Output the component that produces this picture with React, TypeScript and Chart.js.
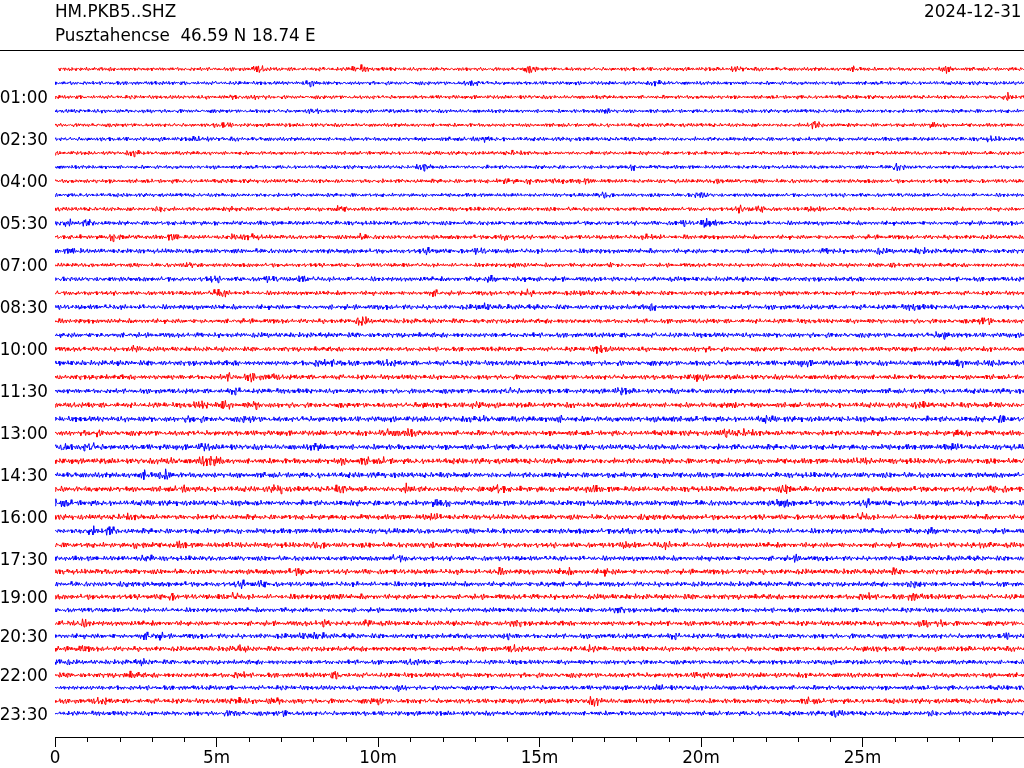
import React, { useEffect, useRef } from "react";
import { Chart, registerables } from "chart.js";

Chart.register(...registerables);

// ---- data ----
const STATION = "HM.PKB5..SHZ";
const LOCATION = "Pusztahencse  46.59 N 18.74 E";
const DAY = "2024-12-31";

// trace baselines (row units, one row per 30-minute line)
const TRACE_BASELINES = [
  0, 1, 2, 3, 4, 5, 6, 7, 8, 9, 10, 11, 12, 13, 14, 15, 16, 17, 18, 19, 20, 21, 22, 23, 24, 25, 26, 27, 28, 29, 30, 31, 32, 33, 34,
  34.95, 35.9, 36.79, 37.69, 38.64, 39.59, 40.5, 41.41, 42.36, 43.29, 44.19, 45.14, 46.02,
];
const TRACE_COLORS = ["#ff0000", "#0000ff"];

// y tick labels and the traces they sit on
const Y_LABEL_TRACES = [2, 5, 8, 11, 14, 17, 20, 23, 26, 29, 32, 35, 38, 41, 44, 47];
const Y_LABELS = ["01:00", "02:30", "04:00", "05:30", "07:00", "08:30", "10:00", "11:30", "13:00", "14:30", "16:00", "17:30", "19:00", "20:30", "22:00", "23:30"];

// x ticks (seconds within a 30-minute line)
const X_MAJOR = [0, 300, 600, 900, 1200, 1500];
const X_LABELS = ["0", "5m", "10m", "15m", "20m", "25m"];
const X_MINOR_MINUTES = [1, 2, 3, 4, 6, 7, 8, 9, 11, 12, 13, 14, 16, 17, 18, 19, 21, 22, 23, 24, 26, 27, 28, 29];

// background noise level per trace (half amplitude, as read)
const BASE_AMP = [
  1.2, 1.2, 1.2, 1.2, 1.2, 1.3, 1.2, 1.2, 1.3, 1.2, 1.3, 1.4, 1.4, 1.5, 1.3, 1.5, 1.4, 1.6, 1.5, 1.6, 1.5, 1.7, 1.6, 1.6,
  1.7, 1.8, 1.7, 1.8, 1.8, 1.8, 1.8, 1.8, 1.7, 1.7, 1.7, 1.6, 1.7, 1.6, 1.7, 1.5, 1.6, 1.6, 1.6, 1.5, 1.6, 1.5, 1.6, 1.5,
];

// bursts: [trace, minute, extra amplitude]
const BURSTS: number[][] = [
  [0, 6.3, 1.8], [0, 9.4, 2], [0, 14.7, 1.5], [0, 21.1, 1.2], [0, 24.8, 1.3], [0, 27.6, 1.5],
  [1, 8, 1.3], [1, 12.9, 1.3], [1, 18.7, 1],
  [2, 5.6, 1], [2, 6.3, 1], [2, 29.5, 1.5],
  [3, 8, 1], [3, 17, 1.2],
  [4, 5.2, 1.3], [4, 23.5, 2], [4, 27.2, 1.2],
  [5, 4.5, 1.3], [5, 13.2, 1.2], [5, 29.0, 1],
  [6, 2.5, 1.2], [6, 14.2, 1],
  [7, 11.4, 1.5], [7, 17.9, 1.2], [7, 26.1, 1.8],
  [8, 14.0, 1.2], [8, 14.8, 1.2], [8, 15.6, 1], [8, 16.4, 1], [8, 20.6, 1],
  [9, 17, 1.3], [9, 20, 1.5],
  [10, 3.3, 1.5], [10, 5.6, 1], [10, 8.8, 1.2], [10, 21.3, 1.8], [10, 21.9, 1.5], [10, 23.5, 1],
  [11, 0.3, 2], [11, 1.0, 1.5], [11, 19.4, 1.3], [11, 20.2, 2.5],
  [12, 1.9, 2.2], [12, 3.7, 1.5], [12, 5.6, 1.2], [12, 6.1, 1.2], [12, 9.4, 1.2], [12, 13.9, 1.5], [12, 18.5, 1.5],
  [13, 0.6, 1.3], [13, 11.6, 1.2], [13, 13.1, 1.3], [13, 24, 1], [13, 25.5, 1], [13, 26.8, 1],
  [14, 4.2, 1.5], [14, 14.3, 1.2], [14, 17.2, 1], [14, 25.9, 1],
  [15, 4.9, 1.2], [15, 6.6, 1.2], [15, 7.7, 1.2], [15, 13.5, 1.3], [15, 14.5, 1.3],
  [16, 5.1, 2], [16, 11.7, 1.2], [16, 14.6, 1.5], [16, 16.4, 1], [16, 22.5, 1],
  [17, 13.3, 1.5], [17, 18.5, 1], [17, 26.6, 1.2],
  [18, 9.5, 1.8], [18, 28.8, 2],
  [19, 27.5, 1.8],
  [20, 2.5, 1.5], [20, 16.9, 2], [20, 20, 1],
  [21, 8.2, 1.5], [21, 8.8, 1.5], [21, 10.3, 1], [21, 23.2, 1], [21, 28.0, 2], [21, 28.9, 1.8],
  [22, 5.4, 1.5], [22, 6.1, 1.8], [22, 6.7, 1.3], [22, 19.9, 1.5],
  [23, 5.5, 1.2], [23, 14.1, 1.2], [23, 17.5, 1.3],
  [24, 4.5, 1.5], [24, 5.2, 1.8], [24, 6.2, 1.5], [24, 11.5, 1], [24, 13, 1.2], [24, 20.9, 1.2], [24, 26.8, 1.2], [24, 29.2, 1],
  [25, 4.3, 1.2], [25, 6.0, 1.2], [25, 13.2, 1.2], [25, 15.6, 1.2], [25, 18.9, 1], [25, 22, 1], [25, 29.3, 1.2],
  [26, 1.2, 1.2], [26, 10.3, 1.8], [26, 10.9, 1.8], [26, 20.8, 1.8], [26, 21.4, 1.8], [26, 28, 1.2],
  [27, 0.2, 2], [27, 1.1, 2], [27, 4.6, 1.3], [27, 8.1, 1.2], [27, 27.8, 1.2],
  [28, 3.5, 1.2], [28, 4.6, 2], [28, 5.0, 2], [28, 8.9, 1], [28, 9.6, 1.2], [28, 10.2, 1], [28, 25, 2],
  [29, 2.8, 2], [29, 3.4, 2],
  [30, 4, 1.2], [30, 6.9, 1.5], [30, 8.8, 1.3], [30, 10.9, 1.8], [30, 13.7, 2.2], [30, 16.6, 1.3], [30, 22.7, 2], [30, 29.2, 1.5],
  [31, 0.2, 1.5], [31, 11.9, 1.8], [31, 22.5, 1.8], [31, 25.2, 1.2],
  [32, 2.2, 1.2], [32, 11.7, 1.5], [32, 18.3, 1.5], [32, 25, 1.5],
  [33, 1.1, 1.8], [33, 1.7, 1.8], [33, 17.7, 1.3], [33, 27.2, 1.2],
  [34, 2.7, 1.2], [34, 3.9, 1.2], [34, 5.6, 1.2], [34, 8.2, 1.2], [34, 11.6, 1.2], [34, 17.7, 1.2], [34, 18.9, 1.2], [34, 28.7, 1.2],
  [35, 2.8, 1.3], [35, 10.6, 1.3], [35, 23, 1.3],
  [36, 7.5, 1.2], [36, 13.7, 1.2], [36, 15.8, 1.3], [36, 17.1, 1.3], [36, 25.9, 1],
  [37, 2.2, 1.2], [37, 5.8, 1.3], [37, 6.4, 1.3], [37, 15.3, 1.2], [37, 26.6, 2],
  [38, 3.5, 1.5], [38, 5.5, 1.5], [38, 8.6, 1.2], [38, 25.1, 1.5], [38, 26.6, 2],
  [39, 17.4, 1.3],
  [40, 0.5, 1.3], [40, 0.9, 1.3], [40, 8.3, 1.2], [40, 9.7, 1.2], [40, 14.2, 1.3], [40, 26.9, 1.3], [40, 27.5, 1.3],
  [41, 2.8, 1.3], [41, 3.2, 1.3], [41, 7.7, 1.2], [41, 8.1, 1.2], [41, 14, 1.2], [41, 19.1, 1], [41, 29.5, 1],
  [42, 0.8, 1.3], [42, 5.7, 1.2], [42, 14.2, 1.5], [42, 16.5, 1.5], [42, 25.2, 1.2],
  [43, 0.2, 1.2], [43, 2.7, 1], [43, 11.1, 1],
  [44, 2.4, 1.3], [44, 5.7, 1.3], [44, 8.7, 1.3], [44, 20, 1.2],
  [45, 10.6, 1.2], [45, 18.8, 1],
  [46, 1.4, 1.3], [46, 5.7, 1.5], [46, 6.8, 1.3], [46, 10, 1.3], [46, 16.7, 1.8], [46, 23.4, 1.2],
  [47, 5.5, 1.2], [47, 7.1, 1.2], [47, 24.2, 1.2], [47, 27.1, 1.2],
];

// first trace starts a few seconds into the line
const TRACE_START = [6];

// two hand-read wiggle snippets (normalised), combined to form the seismic noise
const WIGGLE_A = [
  0.2, -0.6, 0.9, -0.3, -0.8, 0.5, 0.1, -0.4, 0.7, -0.9, 0.3, 0.6, -0.2, -0.7, 0.8, -0.1, 0.4, -0.5, 0.95, -0.65, 0.15,
  -0.35, 0.55, -0.85, 0.45, 0.05, -0.75, 0.65, -0.25, 0.35, -0.55, 0.85, -0.15, -0.45, 0.75, -0.95, 0.25, 0.6, -0.3, -0.1,
  0.5, -0.7, 0.9, -0.4, 0.2, -0.8, 0.7, 0.0, -0.6, 0.4, -0.2, 0.8, -0.5, 0.3, -0.9, 0.6, -0.05, -0.35, 0.45, -0.75, 0.1,
];
const WIGGLE_B = [
  -0.4, 0.7, -0.2, 0.5, -0.9, 0.3, 0.8, -0.6, 0.1, -0.3, 0.9, -0.7, 0.4, -0.1, 0.6, -0.8, 0.2, 0.5, -0.5, 0.95, -0.25, -0.65,
  0.35, -0.15, 0.75, -0.85, 0.45, 0.05, -0.55, 0.65, -0.35, 0.85, -0.75, 0.15, 0.55, -0.45, 0.25, -0.95, 0.7, -0.2, 0.4,
  -0.6, 0.9, -0.1, -0.8, 0.3, -0.5,
];

const SAMPLE_STEP = 1.5; // seconds
const LINE_SECONDS = 1800;
const ROW_PX = 14;
const GAIN = 1.7;

function envelope(trace: number, t: number) {
  let a = BASE_AMP[trace];
  const minute = t / 60;
  for (const b of BURSTS) {
    if (b[0] !== trace) continue;
    const d = Math.abs(minute - b[1]);
    if (d < 0.35) a += b[2] * (1 - d / 0.35);
  }
  return a * GAIN;
}

function buildTrace(trace: number) {
  const pts: { x: number; y: number }[] = [];
  const start = TRACE_START[trace] ?? 0;
  const nA = WIGGLE_A.length;
  const nB = WIGGLE_B.length;
  let i = 0;
  for (let t = start; t <= LINE_SECONDS; t += SAMPLE_STEP, i++) {
    const w = 0.65 * WIGGLE_A[(i + trace * 7) % nA] + 0.45 * WIGGLE_B[(i * 3 + trace * 11) % nB];
    const amp = envelope(trace, t);
    pts.push({ x: t, y: TRACE_BASELINES[trace] + (w * amp) / ROW_PX });
  }
  return pts;
}

const FONT_FAMILY = '"DejaVu Sans", sans-serif';
const FONT_SIZE = 16.8;

const decorations = {
  id: "decorations",
  afterDraw(chart: any) {
    const ctx = chart.ctx;
    const xs = chart.scales.x;
    const area = chart.chartArea;
    ctx.save();
    ctx.fillStyle = "#000";
    ctx.font = `${FONT_SIZE}px ${FONT_FAMILY}`;
    ctx.textBaseline = "alphabetic";
    ctx.textAlign = "left";
    ctx.fillText(STATION, area.left, 16.5);
    ctx.fillText(LOCATION, area.left, 40.5);
    ctx.textAlign = "right";
    ctx.fillText(DAY, 1021.5, 16.5);
    ctx.strokeStyle = "#000";
    ctx.lineWidth = 1;
    ctx.beginPath();
    ctx.moveTo(0, 50.5);
    ctx.lineTo(chart.width, 50.5);
    ctx.stroke();
    ctx.beginPath();
    for (const m of X_MINOR_MINUTES) {
      const px = Math.round(xs.getPixelForValue(m * 60)) + 0.5;
      ctx.moveTo(px, area.bottom);
      ctx.lineTo(px, area.bottom + 5);
    }
    ctx.stroke();
    ctx.restore();
  },
};

export default function App() {
  const ref = useRef<HTMLCanvasElement | null>(null);
  useEffect(() => {
    if (!ref.current) return;
    const datasets = TRACE_BASELINES.map((_, k) => ({
      data: buildTrace(k),
      borderColor: TRACE_COLORS[k % 2],
      borderWidth: 1,
      pointRadius: 0,
      fill: false,
      tension: 0,
    }));
    const chart = new Chart(ref.current, {
      type: "line",
      data: { datasets },
      options: {
        animation: false,
        responsive: false,
        devicePixelRatio: 1,
        parsing: false,
        normalized: true,
        layout: { padding: { top: 50, left: 0, right: 0, bottom: 0 } },
        plugins: { legend: { display: false }, tooltip: { enabled: false }, title: { display: false } },
        scales: {
          x: {
            type: "linear",
            min: 0,
            max: LINE_SECONDS,
            afterBuildTicks: (s: any) => {
              s.ticks = X_MAJOR.map((v) => ({ value: v }));
            },
            afterFit: (s: any) => {
              s.height = 31;
            },
            ticks: {
              callback: (_v: any, i: number) => X_LABELS[i],
              color: "#000",
              font: { family: FONT_FAMILY, size: FONT_SIZE },
              padding: 2,
              maxRotation: 0,
              autoSkip: false,
            },
            grid: { display: true, drawOnChartArea: false, drawTicks: true, tickLength: 10, tickColor: "#000", tickWidth: 1 },
            border: { display: true, color: "#000", width: 1 },
          },
          y: {
            type: "linear",
            reverse: true,
            min: -19 / ROW_PX,
            max: 668 / ROW_PX,
            afterBuildTicks: (s: any) => {
              s.ticks = Y_LABEL_TRACES.map((k) => ({ value: TRACE_BASELINES[k] }));
            },
            afterFit: (s: any) => {
              s.width = 55;
            },
            ticks: {
              callback: (_v: any, i: number) => Y_LABELS[i],
              color: "#000",
              font: { family: FONT_FAMILY, size: FONT_SIZE },
              padding: 7,
              labelOffset: 2,
              autoSkip: false,
            },
            grid: { display: false, drawTicks: false },
            border: { display: false },
          },
        },
      },
      plugins: [decorations],
    });
    return () => chart.destroy();
  }, []);
  return (
    <div style={{ position: "fixed", left: 0, top: 0, width: 1024, height: 768, background: "#fff" }}>
      <canvas ref={ref} width={1024} height={768} style={{ display: "block" }} />
    </div>
  );
}
